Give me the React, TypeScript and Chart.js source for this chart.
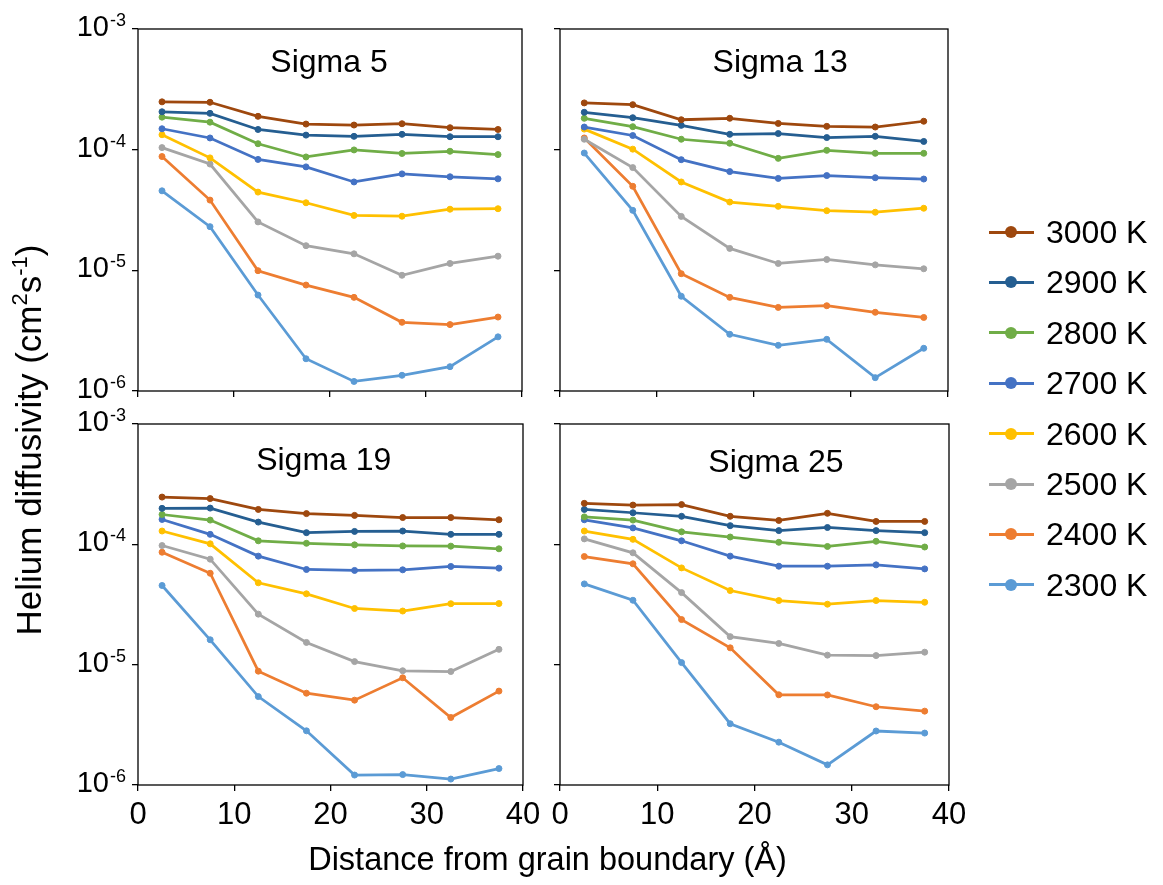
import React, { useEffect, useRef } from "react";
import { Chart, registerables } from "chart.js";

Chart.register(...registerables);

// ---------------- data ----------------
const distances = [2.5, 7.5, 12.5, 17.5, 22.5, 27.5, 32.5, 37.5];
const temperatures = ["3000 K", "2900 K", "2800 K", "2700 K", "2600 K", "2500 K", "2400 K", "2300 K"];
const panelTitles = ["Sigma 5", "Sigma 13", "Sigma 19", "Sigma 25"];
const xTickValues = [0, 10, 20, 30, 40];
const yTickValues = [1e-6, 1e-5, 1e-4, 1e-3];
const yTickExponents = ["-6", "-5", "-4", "-3"];

// rows follow `temperatures`
const sigma5 = [
  [2.49e-4, 2.47e-4, 1.89e-4, 1.63e-4, 1.6e-4, 1.64e-4, 1.52e-4, 1.47e-4],
  [2.06e-4, 2.0e-4, 1.47e-4, 1.32e-4, 1.29e-4, 1.34e-4, 1.28e-4, 1.28e-4],
  [1.86e-4, 1.69e-4, 1.12e-4, 8.7e-5, 9.95e-5, 9.3e-5, 9.7e-5, 9.1e-5],
  [1.49e-4, 1.25e-4, 8.3e-5, 7.2e-5, 5.4e-5, 6.3e-5, 5.96e-5, 5.73e-5],
  [1.33e-4, 8.55e-5, 4.45e-5, 3.63e-5, 2.85e-5, 2.81e-5, 3.21e-5, 3.24e-5],
  [1.04e-4, 7.6e-5, 2.52e-5, 1.6e-5, 1.37e-5, 9.1e-6, 1.14e-5, 1.31e-5],
  [8.77e-5, 3.82e-5, 9.93e-6, 7.55e-6, 5.97e-6, 3.71e-6, 3.55e-6, 4.1e-6],
  [4.56e-5, 2.3e-5, 6.24e-6, 1.85e-6, 1.2e-6, 1.35e-6, 1.59e-6, 2.81e-6],
];
const sigma13 = [
  [2.44e-4, 2.36e-4, 1.77e-4, 1.82e-4, 1.65e-4, 1.56e-4, 1.54e-4, 1.72e-4],
  [2.04e-4, 1.84e-4, 1.59e-4, 1.34e-4, 1.36e-4, 1.26e-4, 1.29e-4, 1.17e-4],
  [1.82e-4, 1.55e-4, 1.22e-4, 1.13e-4, 8.47e-5, 9.87e-5, 9.33e-5, 9.33e-5],
  [1.54e-4, 1.31e-4, 8.26e-5, 6.58e-5, 5.78e-5, 6.1e-5, 5.86e-5, 5.71e-5],
  [1.48e-4, 1.01e-4, 5.4e-5, 3.68e-5, 3.39e-5, 3.12e-5, 3.03e-5, 3.27e-5],
  [1.22e-4, 7.1e-5, 2.8e-5, 1.52e-5, 1.14e-5, 1.23e-5, 1.11e-5, 1.03e-5],
  [1.25e-4, 4.97e-5, 9.38e-6, 5.97e-6, 4.93e-6, 5.09e-6, 4.49e-6, 4.07e-6],
  [9.38e-5, 3.14e-5, 6.1e-6, 2.95e-6, 2.39e-6, 2.68e-6, 1.29e-6, 2.26e-6],
];
const sigma19 = [
  [2.47e-4, 2.4e-4, 1.95e-4, 1.8e-4, 1.74e-4, 1.67e-4, 1.67e-4, 1.6e-4],
  [1.99e-4, 2.0e-4, 1.53e-4, 1.25e-4, 1.28e-4, 1.29e-4, 1.21e-4, 1.21e-4],
  [1.77e-4, 1.59e-4, 1.07e-4, 1.02e-4, 9.9e-5, 9.7e-5, 9.66e-5, 9.18e-5],
  [1.61e-4, 1.21e-4, 7.98e-5, 6.18e-5, 6.07e-5, 6.14e-5, 6.55e-5, 6.34e-5],
  [1.29e-4, 1.01e-4, 4.79e-5, 3.88e-5, 2.93e-5, 2.79e-5, 3.21e-5, 3.22e-5],
  [9.77e-5, 7.53e-5, 2.63e-5, 1.53e-5, 1.06e-5, 8.9e-6, 8.77e-6, 1.34e-5],
  [8.6e-5, 5.75e-5, 8.83e-6, 5.79e-6, 5.07e-6, 7.78e-6, 3.64e-6, 6.03e-6],
  [4.55e-5, 1.61e-5, 5.43e-6, 2.82e-6, 1.21e-6, 1.22e-6, 1.12e-6, 1.37e-6],
];
const sigma25 = [
  [2.19e-4, 2.12e-4, 2.14e-4, 1.71e-4, 1.58e-4, 1.81e-4, 1.55e-4, 1.55e-4],
  [1.95e-4, 1.83e-4, 1.71e-4, 1.43e-4, 1.3e-4, 1.38e-4, 1.3e-4, 1.25e-4],
  [1.69e-4, 1.59e-4, 1.27e-4, 1.15e-4, 1.04e-4, 9.6e-5, 1.06e-4, 9.5e-5],
  [1.6e-4, 1.37e-4, 1.07e-4, 7.98e-5, 6.58e-5, 6.58e-5, 6.75e-5, 6.25e-5],
  [1.29e-4, 1.1e-4, 6.37e-5, 4.13e-5, 3.41e-5, 3.18e-5, 3.41e-5, 3.3e-5],
  [1.11e-4, 8.5e-5, 3.97e-5, 1.71e-5, 1.5e-5, 1.2e-5, 1.19e-5, 1.27e-5],
  [7.92e-5, 6.89e-5, 2.37e-5, 1.38e-5, 5.62e-6, 5.6e-6, 4.47e-6, 4.11e-6],
  [4.69e-5, 3.43e-5, 1.04e-5, 3.23e-6, 2.27e-6, 1.47e-6, 2.81e-6, 2.7e-6],
];
const panelData = [sigma5, sigma13, sigma19, sigma25];

// ---------------- styles / layout ----------------
const colors = ["#9E480E", "#255E91", "#70AD47", "#4472C4", "#FFC000", "#A5A5A5", "#ED7D31", "#5B9BD5"];
const FONT = "'Liberation Sans', Arial, Helvetica, sans-serif";
const PAGE_W = 1163;
const PAGE_H = 885;
const TICK_LEN = 6;
const panelRects = [
  { left: 138, right: 522, top: 29, bottom: 391 },
  { left: 560, right: 948, top: 29, bottom: 391 },
  { left: 138, right: 523, top: 424, bottom: 785 },
  { left: 560, right: 949, top: 424, bottom: 785 },
];
const showXLabels = [false, false, true, true];
const showYLabels = [true, false, true, false];
// title centre in data coordinates [distance, diffusivity]
const titleAnchors = [
  [19.9, 5.2e-4],
  [22.7, 5.2e-4],
  [19.3, 4.9e-4],
  [22.2, 4.7e-4],
];
const X_AXIS_H_LABELS = 50;

const boxPlugin = {
  id: "plotBox",
  afterDraw(chart: any) {
    const { ctx, chartArea } = chart;
    ctx.save();
    ctx.strokeStyle = "#000";
    ctx.lineWidth = 1.3;
    ctx.strokeRect(chartArea.left, chartArea.top, chartArea.right - chartArea.left, chartArea.bottom - chartArea.top);
    ctx.restore();
  },
};

const panelTitlePlugin = {
  id: "panelTitle",
  afterDraw(chart: any, _args: any, opts: any) {
    const { ctx } = chart;
    ctx.save();
    ctx.font = `32px ${FONT}`;
    ctx.fillStyle = "#000";
    ctx.textAlign = "center";
    ctx.textBaseline = "middle";
    ctx.fillText(opts.text, chart.scales.x.getPixelForValue(opts.x), chart.scales.y.getPixelForValue(opts.y));
    ctx.restore();
  },
};

const decadeLabelPlugin = {
  id: "decadeLabels",
  afterDraw(chart: any, _args: any, opts: any) {
    if (!opts.show) return;
    const { ctx, chartArea } = chart;
    const ys = chart.scales.y;
    ctx.save();
    ctx.fillStyle = "#000";
    ctx.textBaseline = "alphabetic";
    yTickValues.forEach((v, i) => {
      const y = ys.getPixelForValue(v);
      const right = chartArea.left - TICK_LEN - 6;
      const sup = yTickExponents[i];
      ctx.font = `18px ${FONT}`;
      const supW = ctx.measureText(sup).width;
      const supX = right - supW;
      ctx.textAlign = "left";
      ctx.fillText(sup, supX, y - 3);
      ctx.font = `29px ${FONT}`;
      ctx.textAlign = "right";
      ctx.fillText("10", supX - 1, y + 7);
    });
    ctx.restore();
  },
};

function Panel({ index }: { index: number }) {
  const ref = useRef<HTMLCanvasElement | null>(null);
  useEffect(() => {
    if (!ref.current) return;
    const rect = panelRects[index];
    const xAxisH = showXLabels[index] ? X_AXIS_H_LABELS : TICK_LEN;
    const values = panelData[index];
    const chart = new Chart(ref.current, {
      type: "line",
      data: {
        datasets: temperatures.map((t, i) => ({
          label: t,
          data: distances.map((x, j) => ({ x, y: values[i][j] })),
          borderColor: colors[i],
          backgroundColor: colors[i],
          pointBackgroundColor: colors[i],
          pointBorderColor: colors[i],
          borderWidth: 2.75,
          pointRadius: 3,
          pointBorderWidth: 1,
          tension: 0,
        })),
      },
      options: {
        responsive: false,
        animation: false,
        events: [],
        layout: {
          padding: {
            left: rect.left - TICK_LEN,
            right: PAGE_W - rect.right,
            top: rect.top,
            bottom: PAGE_H - rect.bottom - xAxisH,
          },
        },
        plugins: {
          legend: { display: false },
          title: { display: false },
          tooltip: { enabled: false },
          panelTitle: { text: panelTitles[index], x: titleAnchors[index][0], y: titleAnchors[index][1] },
          decadeLabels: { show: showYLabels[index] },
        } as any,
        scales: {
          x: {
            type: "linear",
            min: 0,
            max: 40,
            afterBuildTicks: (s: any) => {
              s.ticks = xTickValues.map((v) => ({ value: v }));
            },
            afterFit: (s: any) => {
              s.height = xAxisH;
            },
            grid: { display: true, drawOnChartArea: false, drawTicks: true, tickLength: TICK_LEN, color: "#000", lineWidth: 1.3 },
            border: { display: false },
            ticks: {
              display: showXLabels[index],
              font: { family: FONT, size: 31 },
              color: "#000",
              padding: 6,
              maxRotation: 0,
              autoSkip: false,
            },
          },
          y: {
            type: "logarithmic",
            min: 1e-6,
            max: 1e-3,
            afterBuildTicks: (s: any) => {
              s.ticks = yTickValues.map((v) => ({ value: v }));
            },
            afterFit: (s: any) => {
              s.width = TICK_LEN;
            },
            grid: { display: true, drawOnChartArea: false, drawTicks: true, tickLength: TICK_LEN, color: "#000", lineWidth: 1.3 },
            border: { display: false },
            ticks: { display: false },
          },
        },
      } as any,
      plugins: [boxPlugin, panelTitlePlugin, decadeLabelPlugin],
    });
    return () => chart.destroy();
  }, [index]);
  return (
    <canvas
      ref={ref}
      width={PAGE_W}
      height={PAGE_H}
      style={{ position: "absolute", left: 0, top: 0, width: PAGE_W, height: PAGE_H }}
    />
  );
}

const legendTop = 232;
const legendStep = 50.4;

export default function App() {
  return (
    <div
      style={{
        position: "absolute",
        left: 0,
        top: 0,
        width: PAGE_W,
        height: PAGE_H,
        background: "#fff",
        overflow: "hidden",
        fontFamily: FONT,
        color: "#000",
      }}
    >
      {panelTitles.map((_, i) => (
        <Panel key={i} index={i} />
      ))}
      {/* y axis title */}
      <div
        style={{
          position: "absolute",
          left: 29 - 300,
          top: 440 - 20,
          width: 600,
          height: 40,
          lineHeight: "40px",
          fontSize: 35,
          textAlign: "center",
          whiteSpace: "nowrap",
          transform: "rotate(-90deg)",
        }}
      >
        Helium diffusivity (cm
        <span style={{ fontSize: 22, position: "relative", top: -14 }}>2</span>s
        <span style={{ fontSize: 22, position: "relative", top: -14 }}>-1</span>)
      </div>
      {/* x axis title */}
      <div
        style={{
          position: "absolute",
          left: 0,
          top: 839,
          width: 1095,
          height: 40,
          lineHeight: "40px",
          fontSize: 32.5,
          textAlign: "center",
          whiteSpace: "nowrap",
        }}
      >
        Distance from grain boundary (Å)
      </div>
      {/* legend */}
      {temperatures.map((t, i) => (
        <div
          key={t}
          style={{
            position: "absolute",
            left: 989,
            top: legendTop + legendStep * i - 20,
            height: 40,
            display: "flex",
            alignItems: "center",
            whiteSpace: "nowrap",
          }}
        >
          <div style={{ position: "relative", width: 45, height: 40 }}>
            <div
              style={{ position: "absolute", left: 0, top: 18.5, width: 45, height: 3, background: colors[i] }}
            />
            <div
              style={{
                position: "absolute",
                left: 16,
                top: 14,
                width: 12,
                height: 12,
                borderRadius: 6,
                background: colors[i],
              }}
            />
          </div>
          <span style={{ fontSize: 32, marginLeft: 12, lineHeight: "40px" }}>{t}</span>
        </div>
      ))}
    </div>
  );
}
